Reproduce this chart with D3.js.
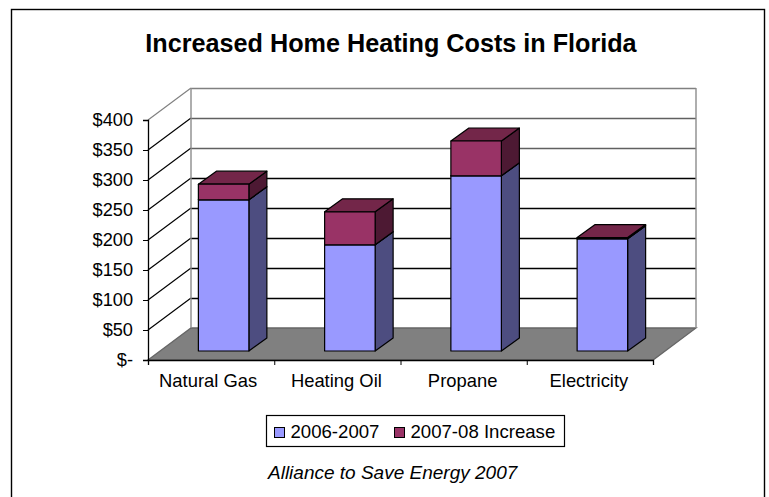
<!DOCTYPE html>
<html>
<head>
<meta charset="utf-8">
<script src="https://cdn.jsdelivr.net/npm/d3@7"></script>
<style>
    html, body { margin: 0; padding: 0; background: #fff; overflow: hidden; }
    svg { display: block; }
    text { font-family: "Liberation Sans", Arial, sans-serif; fill: #000; }
</style>
</head>
<body>
<div id="chart"></div>
<script>
// Values
const categories = ['Natural Gas', 'Heating Oil', 'Propane', 'Electricity'];
const base = [252, 177, 292, 187];
const increase = [26, 55, 58, 2];
const seriesNames = ['2006-2007', '2007-08 Increase'];
const yTicks = [0, 50, 100, 150, 200, 250, 300, 350, 400];

const frontColors = ['#9999ff', '#993366'];
const sideColors = ['#4d4d80', '#4d1933'];
const topColors = ['#7373bf', '#732649'];

const width = 769, height = 497;
const x0 = 148, x1 = 653, yBottom = 360, yTop = 120;
const depthX = 43, depthY = -32;

const svg = d3.select('#chart').append('svg')
    .attr('width', width)
    .attr('height', height);

// chart frame runs off the bottom of the picture
svg.append('rect')
    .attr('x', 11.5).attr('y', 9.5)
    .attr('width', 753).attr('height', 520)
    .attr('fill', '#fff')
    .attr('stroke', '#000')
    .attr('stroke-width', 1.4);

svg.append('text')
    .attr('x', 391).attr('y', 52)
    .attr('text-anchor', 'middle')
    .attr('font-size', 25.2)
    .attr('font-weight', 'bold')
    .text('Increased Home Heating Costs in Florida');

const xScale = d3.scaleBand().domain(categories).range([x0, x1]).paddingInner(0.6).paddingOuter(0.3);
const yScale = d3.scaleLinear().domain([0, 400]).range([yBottom, yTop]);

// floor
svg.append('path')
    .attr('d', d3.line()([[x0, yBottom], [x0 + depthX, yBottom + depthY], [x1 + depthX, yBottom + depthY], [x1, yBottom]]) + 'Z')
    .attr('fill', '#808080')
    .attr('stroke', '#666')
    .attr('stroke-width', 1.3);

// gridlines on the back and side walls
const gridColor = d => d === 400 ? '#808080' : d >= 300 ? '#606060' : '#000';
svg.selectAll('.side-grid').data(yTicks.slice(1)).enter().append('line')
    .attr('x1', x0).attr('y1', d => yScale(d))
    .attr('x2', x0 + depthX).attr('y2', d => yScale(d) + depthY)
    .attr('stroke', d => d === 400 ? '#808080' : '#000')
    .attr('stroke-width', 1.2);
svg.selectAll('.back-grid').data(yTicks.slice(1)).enter().append('line')
    .attr('x1', x0 + depthX).attr('y1', d => yScale(d) + depthY + 0.5)
    .attr('x2', x1 + depthX).attr('y2', d => yScale(d) + depthY + 0.5)
    .attr('stroke', gridColor)
    .attr('stroke-width', 1.3);
[x0 + depthX, x1 + depthX].forEach(x => {
    svg.append('line')
        .attr('x1', x).attr('y1', yTop + depthY)
        .attr('x2', x).attr('y2', yBottom + depthY)
        .attr('stroke', '#8c8c8c')
        .attr('stroke-width', 1.4);
});

// axes
const yAxis = d3.axisLeft(yScale)
    .tickValues(yTicks)
    .tickSize(5)
    .tickPadding(10)
    .tickFormat(d => d === 0 ? '$-' : '$' + d);
const yG = svg.append('g').attr('transform', 'translate(' + x0 + ',0)').call(yAxis);
yG.selectAll('text').attr('font-size', 18.2).attr('font-family', '"Liberation Sans", Arial, sans-serif');

const xTickScale = d3.scalePoint().domain(d3.range(categories.length + 1)).range([x0, x1]);
const xAxis = d3.axisBottom(xTickScale).tickSize(5).tickFormat('');
svg.append('g').attr('transform', 'translate(0,' + yBottom + ')').call(xAxis);
svg.selectAll('.domain').attr('stroke', '#000').attr('stroke-width', 1.3);
svg.selectAll('.tick line').attr('stroke', '#000');

// labels sit a little off centre in the original
const labelNudge = [-3, -1, -1, -1];
svg.selectAll('.cat-label').data(categories).enter().append('text')
    .attr('x', (d, i) => xScale(d) + xScale.bandwidth() / 2 + labelNudge[i])
    .attr('y', 387)
    .attr('text-anchor', 'middle')
    .attr('font-size', 18.4)
    .text(d => d);

// bars, stacked, with the depth of the 3D columns
const barDepthX = 18, barDepthY = -13;
const barShiftX = 12.5, barShiftY = -9;
const line = d3.line();
categories.forEach((c, i) => {
    const left = xScale(c) + barShiftX;
    const right = left + xScale.bandwidth();
    let start = 0;
    [base[i], increase[i]].forEach((v, s) => {
        const yA = yScale(start) + barShiftY;
        const yB = yScale(start + v) + barShiftY;
        const g = svg.append('g').attr('stroke', '#000').attr('stroke-width', 1.2).attr('stroke-linejoin', 'round');
        g.append('path')
            .attr('d', line([[right, yA], [right + barDepthX, yA + barDepthY], [right + barDepthX, yB + barDepthY], [right, yB]]) + 'Z')
            .attr('fill', sideColors[s]);
        g.append('path')
            .attr('d', line([[left, yB], [left + barDepthX, yB + barDepthY], [right + barDepthX, yB + barDepthY], [right, yB]]) + 'Z')
            .attr('fill', topColors[s]);
        g.append('rect')
            .attr('x', left).attr('y', yB)
            .attr('width', right - left).attr('height', yA - yB)
            .attr('fill', frontColors[s]);
        start += v;
    });
});

// legend
svg.append('rect')
    .attr('x', 266.5).attr('y', 415.5)
    .attr('width', 298).attr('height', 31)
    .attr('fill', '#fff')
    .attr('stroke', '#000')
    .attr('stroke-width', 1.2);
const legendX = [274.5, 394.5];
seriesNames.forEach((name, i) => {
    svg.append('rect')
        .attr('x', legendX[i]).attr('y', 427.5)
        .attr('width', 10).attr('height', 10)
        .attr('fill', frontColors[i])
        .attr('stroke', '#000');
    svg.append('text')
        .attr('x', legendX[i] + 16).attr('y', 438)
        .attr('font-size', 18.6)
        .text(name);
});

svg.append('text')
    .attr('x', 268).attr('y', 479)
    .attr('font-size', 19)
    .attr('font-style', 'italic')
    .text('Alliance to Save Energy 2007');
</script>
</body>
</html>
